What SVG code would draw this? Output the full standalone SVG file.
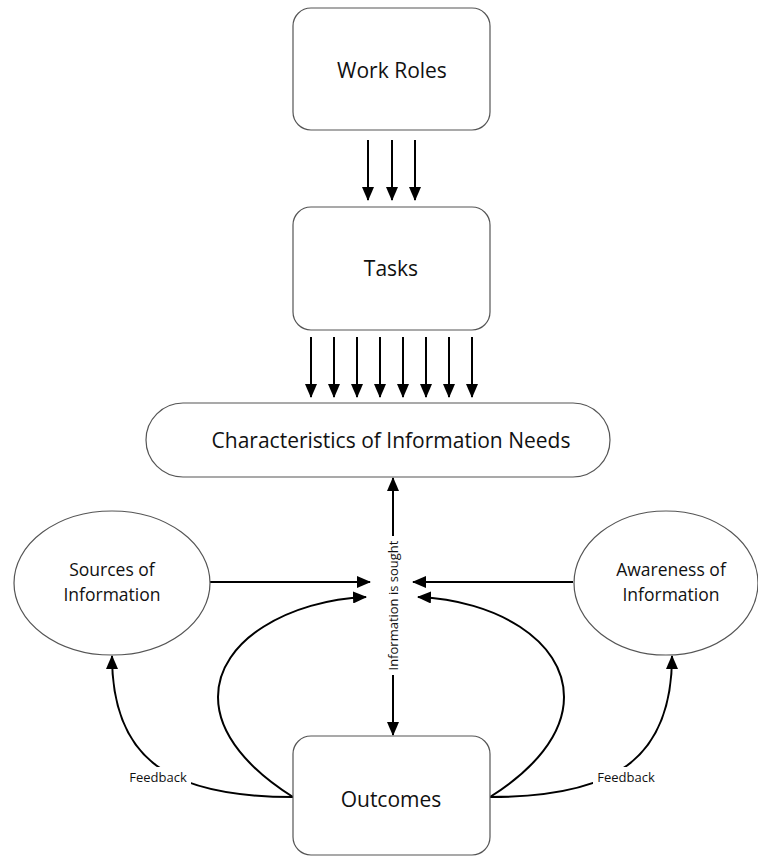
<svg xmlns="http://www.w3.org/2000/svg" width="758" height="856" viewBox="0 0 758 856">
<style>
.box{fill:#fff;stroke:#555;stroke-width:1.2}
.t{font-family:"Open Sans","Liberation Sans",sans-serif;fill:#111;text-anchor:middle}
.c{fill:none;stroke:#000;stroke-width:2}
.a{marker-end:url(#ah)}
</style>
<defs>
<marker id="ah" viewBox="0 0 14 12" refX="13" refY="6" markerWidth="14" markerHeight="12" markerUnits="userSpaceOnUse" orient="auto">
<path d="M0,0 L14,6 L0,12 Z" fill="#000"/>
</marker>
</defs>
<rect width="758" height="856" fill="#fff"/>
<g id="connectors">
<path class="c a" d="M368,140 V200"/>
<path class="c a" d="M392,140 V200"/>
<path class="c a" d="M415,140 V200"/>
<path class="c a" d="M311,337 V397"/>
<path class="c a" d="M334,337 V397"/>
<path class="c a" d="M357,337 V397"/>
<path class="c a" d="M380,337 V397"/>
<path class="c a" d="M403,337 V397"/>
<path class="c a" d="M426,337 V397"/>
<path class="c a" d="M449,337 V397"/>
<path class="c a" d="M472,337 V397"/>
<path class="c a" d="M393,536 V478"/>
<path class="c a" d="M393,675 V735"/>
<path class="c a" d="M210,582 H370"/>
<path class="c a" d="M573,582 H413"/>
<path class="c a" d="M293,797 C250,770 218,735 218,697 C218,640 290,600 366,597"/>
<path class="c a" d="M490,797 C533,770 564,735 564,697 C564,640 495,600 418,597"/>
<path class="c a" d="M293,797 C170,797 112,760 112,656"/>
<path class="c a" d="M490,797 C613,797 672,760 672,656"/>
<rect x="125" y="767" width="66" height="19" fill="#fff"/>
<rect x="593" y="767" width="66" height="19" fill="#fff"/>
<text class="t" x="158" y="782" font-size="13">Feedback</text>
<text class="t" x="626" y="782" font-size="13">Feedback</text>
<text class="t" font-size="13" transform="translate(398,605.5) rotate(-90)">Information is sought</text>
</g>
<g id="work-roles">
<rect class="box" x="293" y="8" width="197" height="122" rx="18"/>
<text class="t" x="392" y="78" font-size="21">Work Roles</text>
</g>
<g id="tasks">
<rect class="box" x="293" y="207" width="197" height="123" rx="18"/>
<text class="t" x="391" y="276" font-size="21">Tasks</text>
</g>
<g id="characteristics">
<rect class="box" x="146" y="403" width="464" height="74" rx="37"/>
<text class="t" x="391" y="448" font-size="21">Characteristics of Information Needs</text>
</g>
<g id="sources">
<ellipse class="box" cx="112" cy="583" rx="98" ry="72"/>
<text class="t" x="112" y="576" font-size="17.5">Sources of</text>
<text class="t" x="112" y="601" font-size="17.5">Information</text>
</g>
<g id="awareness">
<ellipse class="box" cx="666" cy="583" rx="92" ry="72"/>
<text class="t" x="671" y="576" font-size="17.5">Awareness of</text>
<text class="t" x="671" y="601" font-size="17.5">Information</text>
</g>
<g id="outcomes">
<rect class="box" x="293" y="736" width="197" height="119" rx="18"/>
<text class="t" x="391" y="807" font-size="21">Outcomes</text>
</g>
</svg>
